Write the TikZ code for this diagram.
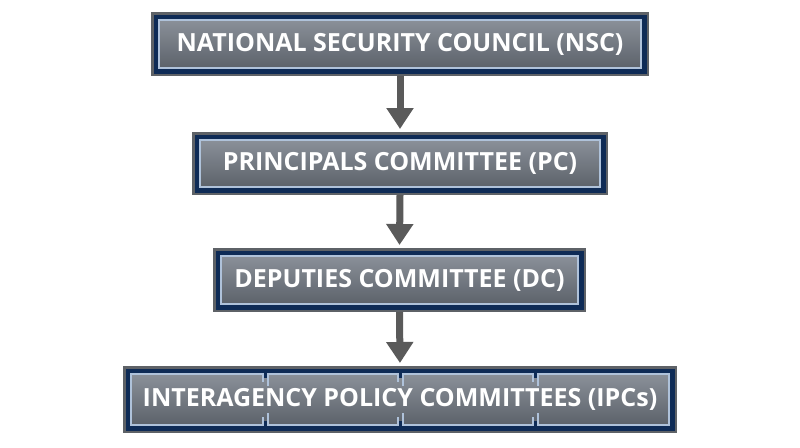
\documentclass[tikz,border=0pt]{standalone}
\usepackage{fontspec}
\setmainfont{Open Sans}
\usetikzlibrary{arrows.meta}
\definecolor{framegray}{HTML}{5E6267}
\definecolor{navy}{HTML}{0E2B56}
\definecolor{lightedge}{HTML}{AFC2DA}
\definecolor{paneltop}{HTML}{8A9099}
\definecolor{panelbot}{HTML}{5C626A}
\definecolor{arrowgray}{HTML}{5A5A5A}
\tikzset{
  boxtext/.style={text=white, font=\bfseries\fontsize{25}{29}\selectfont, inner sep=0pt},
  flowarrow/.style={draw=arrowgray, fill=arrowgray, line width=7pt, -{Triangle[width=26pt,length=21pt]}, shorten >=3pt}
}
\newcommand{\govbox}[5]{% name, x1, y1, x2, y2
  \fill[framegray] (#2,#3) rectangle (#4,#5);
  \fill[navy] (#2+2.5,#3+2.5) rectangle (#4-2.5,#5-2.5);
  \shade[top color=paneltop, bottom color=panelbot] (#2+8,#3+8) rectangle (#4-8,#5-8);
  \draw[lightedge, line width=1.3pt] (#2+8,#3+8) rectangle (#4-8,#5-8);
  \coordinate (#1) at ({(#2+#4)/2},{(#3+#5)/2});
  \coordinate (#1-n) at ({(#2+#4)/2},#3);
  \coordinate (#1-s) at ({(#2+#4)/2},#5);
}
\begin{document}
\begin{tikzpicture}[x=1pt,y=-1pt]
\useasboundingbox[fill=white] (0,0) rectangle (800,447);
\govbox{nsc}{151}{12}{649}{76}
\govbox{pc}{192}{132}{608}{195}
\govbox{dc}{213}{248}{586}{312}
\govbox{ipc}{123}{366}{677}{433}
% dividers in the last box
\foreach \dx in {266,401,536}{
  \fill[navy] (\dx-2,366+2.5) rectangle (\dx+1,378);
  \fill[navy] (\dx-2,421) rectangle (\dx+1,433-2.5);
  \draw[lightedge, line width=1.3pt] (\dx+2,374) -- (\dx+2,386);
  \draw[lightedge, line width=1.3pt] (\dx+2,413) -- (\dx+2,425);
  \draw[lightedge, line width=1.3pt] (\dx-3,374) -- (\dx-3,382);
  \draw[lightedge, line width=1.3pt] (\dx-3,417) -- (\dx-3,425);
}
\node[boxtext] (tnsc) at (nsc) {NATIONAL SECURITY COUNCIL (NSC)};
\node[boxtext] (tpc) at (pc) {PRINCIPALS COMMITTEE (PC)};
\node[boxtext] (tdc) at (dc) {DEPUTIES COMMITTEE (DC)};
\node[boxtext] (tipc) at (ipc) {INTERAGENCY POLICY COMMITTEES (IPCs)};
\draw[flowarrow] (nsc-s) -- (pc-n);
\draw[flowarrow] (pc-s) -- (dc-n);
\draw[flowarrow] (dc-s) -- (ipc-n);
\end{tikzpicture}
\end{document}
